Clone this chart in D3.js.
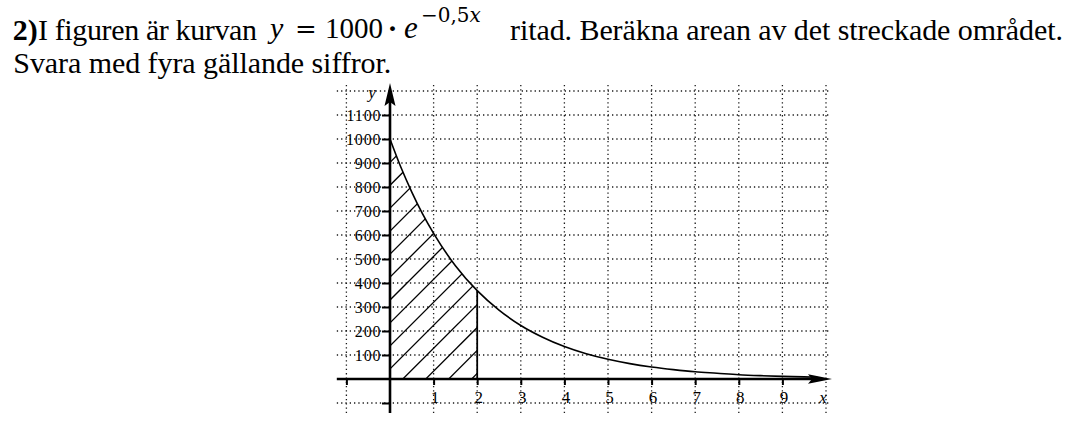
<!DOCTYPE html>
<html>
<head>
<meta charset="utf-8">
<script src="https://cdn.jsdelivr.net/npm/d3@7"></script>
<style>
  body { margin: 0; background: #fff; }
  svg { display: block; }
  text { font-family: "Liberation Serif", "Times New Roman", serif; fill: #000; }
</style>
</head>
<body>
<svg></svg>
<script>
var width = 1080;
var height = 434;

// curve (y = 1000*e^(-0.5x))
var curveX = [0, 0.25, 0.5, 0.75, 1, 1.5, 2, 2.5, 3, 3.5, 4, 4.5, 5, 5.5, 6, 6.5, 7, 7.5, 8, 8.5, 9, 9.5, 9.8];
var curveY = [1000, 882, 779, 687, 607, 472, 368, 287, 223, 174, 135, 105, 82, 64, 50, 39, 30, 24, 18, 14, 11, 9, 7];

var xTicks = [-1, 1, 2, 3, 4, 5, 6, 7, 8, 9];
var yTicks = [-100, 100, 200, 300, 400, 500, 600, 700, 800, 900, 1000, 1100];
var xGrid = [-1, 1, 2, 3, 4, 5, 6, 7, 8, 9, 10];
var yGrid = [-100, 100, 200, 300, 400, 500, 600, 700, 800, 900, 1000, 1100, 1200];
var shadeFrom = 0, shadeTo = 2;

var serif = "'Liberation Serif', 'Times New Roman', serif";
var mathSerif = "'DejaVu Serif', serif";

var svg = d3.select("svg")
    .attr("width", width)
    .attr("height", height);

var x = d3.scaleLinear().domain([0, 10]).range([390, 826]);
var y = d3.scaleLinear().domain([0, 1200]).range([379, 91]);

// ---- title text ----
var t = svg.append("g").attr("font-family", serif);
t.append("text").attr("x", 12.7).attr("y", 40).style("font-size", "30px").style("font-weight", "bold").text("2)");
t.append("text").attr("x", 38).attr("y", 40).style("font-size", "30px")
  .attr("textLength", 219).attr("lengthAdjust", "spacing").text("I figuren är kurvan");
// math part
t.append("text").attr("x", 270).attr("y", 38).style("font-size", "30px").style("font-style", "italic").text("y");
t.append("text").attr("x", 295).attr("y", 38).style("font-family", mathSerif).style("font-size", "26px").text("=");
t.append("text").attr("x", 325).attr("y", 38).style("font-size", "29px")
  .attr("textLength", 58).attr("lengthAdjust", "spacing").text("1000");
t.append("text").attr("x", 392.5).attr("y", 38).attr("text-anchor", "middle").style("font-size", "30px").style("font-weight", "bold").text("·");
t.append("text").attr("x", 404).attr("y", 38).style("font-size", "31px").style("font-style", "italic").text("e");
var sup = t.append("text").attr("x", 421).attr("y", 21.5)
  .style("font-family", mathSerif).style("font-size", "20px");
sup.append("tspan").text("−0,5");
sup.append("tspan").style("font-style", "italic").text("x");
t.append("text").attr("x", 510).attr("y", 40).style("font-size", "30px")
  .attr("textLength", 553).attr("lengthAdjust", "spacing")
  .text("ritad. Beräkna arean av det streckade området.");
t.append("text").attr("x", 13.3).attr("y", 73).style("font-size", "30px")
  .attr("textLength", 378).attr("lengthAdjust", "spacing")
  .text("Svara med fyra gällande siffror.");

// ---- dotted grid ----
var grid = svg.append("g")
    .style("stroke", "#1a1a1a")
    .style("stroke-width", 1.3)
    .style("stroke-dasharray", "1.3,3");

grid.selectAll(".vg").data(xGrid).enter().append("line")
    .attr("x1", function(d) { return x(d); })
    .attr("x2", function(d) { return x(d); })
    .attr("y1", y(1225))
    .attr("y2", y(-142));

grid.selectAll(".hg").data(yGrid).enter().append("line")
    .attr("x1", x(-1.22))
    .attr("x2", x(10.1))
    .attr("y1", function(d) { return y(d); })
    .attr("y2", function(d) { return y(d); });

// ---- hatched area ----
var pts = curveX.map(function(d, i) { return [d, curveY[i]]; });
var shadePts = pts.filter(function(p) { return p[0] >= shadeFrom && p[0] <= shadeTo; });

var area = d3.area()
    .x(function(d) { return x(d[0]); })
    .y0(y(0))
    .y1(function(d) { return y(d[1]); })
    .curve(d3.curveMonotoneX);

var defs = svg.append("defs");
defs.append("clipPath").attr("id", "shade-clip")
  .append("path").attr("d", area(shadePts));

// diagonal hatch lines, 45 degrees, spaced ~23px along the axes
var hatch = svg.append("g").attr("clip-path", "url(#shade-clip)");
var x0 = x(0), y0 = y(0);
d3.range(-11, 5).forEach(function(m) {
  var c = 12.8 + 22.95 * m; // x' - y' = c (pixels from origin)
  hatch.append("line")
      .attr("x1", x0 + c - 20).attr("y1", y0 + 20)
      .attr("x2", x0 + c + 300).attr("y2", y0 - 300)
      .style("stroke", "#000")
      .style("stroke-width", 1.3);
});

// vertical boundary at x = 2
svg.append("line")
    .attr("x1", x(shadeTo)).attr("x2", x(shadeTo))
    .attr("y1", y(0)).attr("y2", y(shadePts[shadePts.length - 1][1]))
    .style("stroke", "#000")
    .style("stroke-width", 1.8);

// ---- curve ----
var line = d3.line()
    .x(function(d) { return x(d[0]); })
    .y(function(d) { return y(d[1]); })
    .curve(d3.curveMonotoneX);

svg.append("path")
    .attr("d", line(pts))
    .style("fill", "none")
    .style("stroke", "#000")
    .style("stroke-width", 1.6);

// ---- axes ----
var xAxis = d3.axisBottom(x)
    .tickValues(xTicks)
    .tickSize(6)
    .tickPadding(6)
    .tickFormat(function(d) { return d < 0 ? "" : d; });

var yAxis = d3.axisLeft(y)
    .tickValues(yTicks)
    .tickSize(8)
    .tickPadding(0.5)
    .tickFormat(function(d) { return d < 0 ? "" : d; });

var gx = svg.append("g").attr("transform", "translate(0," + y(0) + ")").call(xAxis);
var gy = svg.append("g").attr("transform", "translate(" + x(0) + ",0)").call(yAxis);

[gx, gy].forEach(function(g) {
  g.attr("font-family", serif);
  g.select(".domain").remove();
  g.selectAll(".tick line").style("stroke", "#000").style("stroke-width", 2);
  g.selectAll("text").style("font-family", serif).attr("fill", "#000");
});
gx.selectAll("text").style("font-size", "17px").attr("dx", "1");
gy.selectAll("text").style("font-size", "16px").style("letter-spacing", "0.9px");

// axis lines with arrowheads
svg.append("line")
    .attr("x1", x(-1.22)).attr("x2", 812)
    .attr("y1", y(0)).attr("y2", y(0))
    .style("stroke", "#000").style("stroke-width", 2.6);
svg.append("path")
    .attr("d", "M832," + y(0) + " L808," + (y(0) - 4.8) + " L812," + y(0) + " L808," + (y(0) + 4.8) + " Z")
    .style("fill", "#000");

svg.append("line")
    .attr("x1", x(0)).attr("x2", x(0))
    .attr("y1", y(-142)).attr("y2", 101)
    .style("stroke", "#000").style("stroke-width", 2.6);
svg.append("path")
    .attr("d", "M" + x(0) + ",83 L" + (x(0) - 5.5) + ",106 L" + x(0) + ",102 L" + (x(0) + 5.5) + ",106 Z")
    .style("fill", "#000");

// axis names
svg.append("text").attr("x", 823).attr("y", 403).attr("text-anchor", "middle")
    .style("font-size", "17px").style("font-style", "italic").text("x");
svg.append("text").attr("x", 372).attr("y", 98).attr("text-anchor", "middle")
    .style("font-size", "17px").style("font-style", "italic").text("y");
</script>
</body>
</html>
